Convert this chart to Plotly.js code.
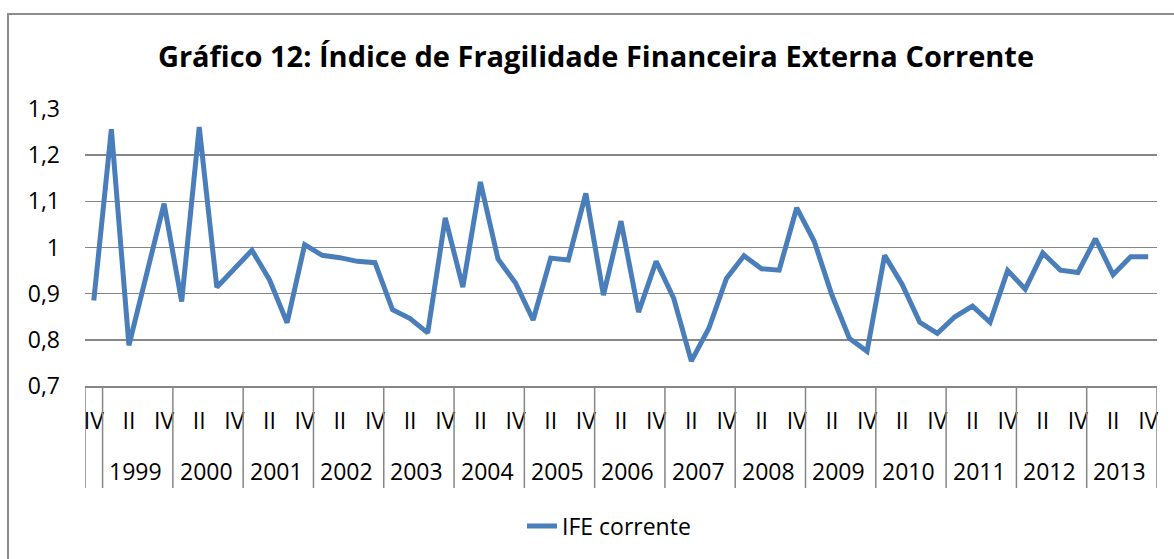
<!DOCTYPE html>
<html>
<head>
<meta charset="utf-8">
<script src="https://cdn.plot.ly/plotly-3.0.1.min.js"></script>
<style>
  html, body { margin: 0; padding: 0; background: #ffffff; }
  #chart { width: 1174px; height: 559px; }
</style>
</head>
<body>
<div id="chart"></div>
<script>
// ---- Data ----
const firstYear = '1998';
const firstQuarter = 'IV';
const yearLabels = ['1999','2000','2001','2002','2003','2004','2005','2006','2007','2008','2009','2010','2011','2012','2013'];
const quarterNames = ['I','II','III','IV'];
const shownQuarters = ['II','IV'];
const seriesName = 'IFE corrente';
const ife = [
  0.885,                          // 1998 IV
  1.256, 0.788, 0.937, 1.095,     // 1999
  0.883, 1.261, 0.914, 0.954,     // 2000
  0.994, 0.930, 0.837, 1.006,     // 2001
  0.983, 0.978, 0.970, 0.967,     // 2002
  0.865, 0.846, 0.815, 1.064,     // 2003
  0.914, 1.142, 0.975, 0.923,     // 2004
  0.843, 0.977, 0.973, 1.117,     // 2005
  0.897, 1.057, 0.860, 0.970,     // 2006
  0.890, 0.754, 0.825, 0.933,     // 2007
  0.982, 0.954, 0.951, 1.086,     // 2008
  1.013, 0.897, 0.803, 0.775,     // 2009
  0.983, 0.920, 0.838, 0.814,     // 2010
  0.850, 0.873, 0.838, 0.950,     // 2011
  0.910, 0.988, 0.951, 0.946,     // 2012
  1.019, 0.941, 0.980, 0.980      // 2013
];
const titleText = 'Gráfico 12: Índice de Fragilidade Financeira Externa Corrente';

// ---- Build categories ----
const cats = [firstYear + ' ' + firstQuarter];
const catQuarter = [firstQuarter];
yearLabels.forEach(y => quarterNames.forEach(q => { cats.push(y + ' ' + q); catQuarter.push(q); }));

const tickvals = [], ticktext = [];
cats.forEach((c, i) => { if (shownQuarters.includes(catQuarter[i])) { tickvals.push(c); ticktext.push(catQuarter[i]); } });

// geometry helpers (paper coords)
const plotTop = 109, plotBottom = 386, plotLeft = 85, plotRight = 1157;
const ph = plotBottom - plotTop, pw = plotRight - plotLeft;
const py = y => (plotBottom - y) / ph;
const px = x => (x - plotLeft) / pw;

const gray = '#868686';
const FONT = 'Open Sans, sans-serif';
const shapes = [];
const annotations = [];
// dividers: left edge, each year start, right edge
const dividerBottom = py(488);
const boundaries = [-0.5];
yearLabels.forEach(y => boundaries.push(cats.indexOf(y + ' I') - 0.5));
boundaries.push(cats.length - 0.5);
boundaries.forEach(b => shapes.push({type:'line', xref:'x', yref:'paper', x0:b, x1:b, y0:0, y1:dividerBottom, line:{color:gray, width:1.5}}));
yearLabels.forEach(y => {
  const i0 = cats.indexOf(y + ' I');
  annotations.push({xref:'x', yref:'paper', x: i0 + 1.5, y: py(471), xshift:-2, text: y, showarrow:false,
    xanchor:'center', yanchor:'middle', font:{family:FONT, size:23, color:'#000'}});
});
// outer chart border (left and top visible)
shapes.push({type:'rect', xref:'paper', yref:'paper', x0:px(8), x1:px(1190), y0:py(14), y1:py(580), line:{color:'#8c8c8c', width:2}, fillcolor:'rgba(0,0,0,0)', layer:'below'});

const trace = {
  x: cats, y: ife, type:'scatter', mode:'lines', name: seriesName,
  line:{color:'#4A7EBB', width:5}
};

const layout = {
  width:1174, height:559,
  margin:{l:plotLeft, r:1174-plotRight, t:plotTop, b:559-plotBottom, pad:0},
  paper_bgcolor:'#ffffff', plot_bgcolor:'#ffffff',
  separators:',.',
  font:{family:FONT, color:'#000'},
  title:{text:'<b>' + titleText + '</b>', font:{family:FONT, size:29, color:'#000'},
    x:596/1174, xanchor:'center', xref:'container', y:1-57/559, yanchor:'middle', yref:'container'},
  xaxis:{type:'category', categoryorder:'array', categoryarray:cats, range:[-0.5, cats.length-0.5],
    tickmode:'array', tickvals:tickvals, ticktext:ticktext, ticks:'', showgrid:false,
    showline:true, linecolor:gray, linewidth:1.5, zeroline:false,
    tickfont:{family:FONT, size:23, color:'#000'}, ticklabelstandoff:14, tickangle:0},
  yaxis:{range:[0.7,1.3], dtick:0.1, tick0:0.7, showgrid:true, gridcolor:gray, gridwidth:1.5,
    showline:false, zeroline:false, ticks:'', ticklabelstandoff:24,
    tickfont:{family:FONT, size:23, color:'#000'}},
  showlegend:true,
  legend:{orientation:'h', x:px(609), xanchor:'center', y:py(526), yanchor:'middle',
    font:{family:FONT, size:23, color:'#000'}, bgcolor:'rgba(0,0,0,0)'},
  shapes:shapes, annotations:annotations
};

Plotly.newPlot('chart', [trace], layout, {staticPlot:true, displayModeBar:false});
</script>
</body>
</html>
